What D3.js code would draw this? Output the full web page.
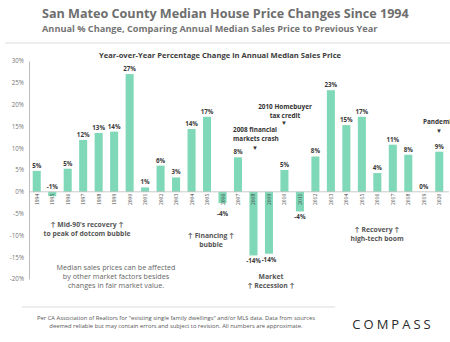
<!DOCTYPE html>
<html>
<head>
<meta charset="utf-8">
<script src="https://cdn.jsdelivr.net/npm/d3@7"></script>
<style>
body{margin:0;background:#fff}
svg{display:block}
</style>
</head>
<body>
<svg id="chart"></svg>
<script>
const width = 450
const height = 342

// data
const years = ['1994','1995','1996','1997','1998','1999','2000','2001','2002','2003','2004','2005','2006','2007','2008','2009','2010','2011','2012','2013','2014','2015','2016','2017','2018','2019','2020']
const changes = [4.8,-1,5.3,11.9,13.5,13.8,27,1,6,3.3,14.4,17.2,-2.6,7.9,-14.6,-14.2,5,-4.5,8.1,23.3,15.3,17.2,4.3,10.8,8.5,0,9.2]
const labels = ['5%','-1%','5%','12%','13%','14%','27%','1%','6%','3%','14%','17%','-4%','8%','-14%','-14%','5%','-4%','8%','23%','15%','17%','4%','11%','8%','0%','9%']
const yTicks = [-20,-15,-10,-5,0,5,10,15,20,25,30]

const data = years.map((y,i)=>({year:y,value:changes[i],label:labels[i]}))

const svg = d3.select('#chart').attr('width',width).attr('height',height)
  .style('font-family','"Open Sans", Lato, sans-serif')

const x = d3.scaleBand().domain(years).range([29,447]).paddingInner(0.48).paddingOuter(0.24)
const y = d3.scaleLinear().domain([-20,30]).range([279,61])

// header
svg.append('text').text('San Mateo County Median House Price Changes Since 1994')
  .attr('x',42).attr('y',18).attr('font-size',12.6).attr('font-weight','bold').attr('fill','#6e6e6e')
svg.append('text').text('Annual % Change, Comparing  Annual Median Sales Price to Previous Year')
  .attr('x',42).attr('y',31.5).attr('font-size',9.2).attr('font-weight','bold').attr('fill','#747474')
svg.append('line').attr('x1',5).attr('x2',450).attr('y1',43).attr('y2',43)
  .attr('stroke','#dcdcdc').attr('stroke-width',1)
svg.append('text').text('Year-over-Year Percentage Change in Annual Median Sales Price')
  .attr('x',220).attr('y',58).attr('text-anchor','middle').attr('font-size',7.6)
  .attr('font-weight','bold').attr('fill','#3c3c3c')

// y axis
const yAxis = d3.axisLeft(y).tickValues(yTicks).tickSize(0).tickPadding(5).tickFormat(d=>d+'%')
const ya = svg.append('g').attr('transform','translate(29,0)').call(yAxis)
ya.select('.domain').attr('stroke','#bdbdbd')
ya.selectAll('text').attr('font-size',6.2).attr('fill','#777').attr('font-family','"Open Sans", sans-serif')

// bars
svg.append('g').selectAll('rect').data(data).enter().append('rect')
  .attr('x',d=>x(d.year))
  .attr('width',x.bandwidth())
  .attr('y',d=>y(Math.max(0,d.value)))
  .attr('height',d=>Math.abs(y(d.value)-y(0)))
  .attr('fill','#7fd9b8')

// zero line
svg.append('line').attr('x1',29).attr('x2',449).attr('y1',y(0)).attr('y2',y(0))
  .attr('stroke','#bdbdbd').attr('stroke-width',0.8)

// year labels
svg.append('g').selectAll('text').data(data).enter().append('text')
  .text(d=>d.year)
  .attr('transform',d=>`translate(${x(d.year)+x.bandwidth()/2+2},${y(0)+2}) rotate(-90)`)
  .attr('text-anchor','end')
  .attr('font-size',5.6).attr('font-family','"Liberation Serif", serif').attr('fill','#444')

// value labels
svg.append('g').selectAll('text').data(data).enter().append('text')
  .text(d=>d.label)
  .attr('x',d=>x(d.year)+x.bandwidth()/2)
  .attr('y',d=>{
    if(d.value>=-1.5) return y(Math.max(0,d.value))-3
    return Math.max(y(d.value),y(0)+16)+8
  })
  .attr('text-anchor','middle').attr('font-size',6.2).attr('font-weight','bold').attr('fill','#3a3a3a')

// annotations
const note = (lines,cx,cy,opt={})=>{
  const t = svg.append('text').attr('text-anchor',opt.anchor||'middle')
    .attr('font-size',opt.size||6.8).attr('font-weight',opt.weight||'bold').attr('fill',opt.color||'#555')
  lines.forEach((l,i)=>t.append('tspan').attr('x',cx).attr('y',cy+i*(opt.lh||9.2)).text(l))
}
note(['\u2191  Mid-90\'s recovery \u2191','to peak of dotcom bubble'],87,227)
note(['\u2191 Financing \u2191','bubble'],211,238)
note(['Market','\u2191  Recession \u2191'],271,279)
note(['\u2191         Recovery        \u2191','high-tech boom'],377,232)
note(['Median sales prices can be affected','by other market factors besides','changes in fair market value.'],116,270,{color:'#666',weight:'normal',size:7.2})
note(['2008 financial','markets crash'],233,132,{anchor:'start',color:'#333',size:6.4})
note(['2010 Homebuyer','tax credit'],285,109,{color:'#333',size:6.4})
note(['Pandemic'],423,124,{anchor:'start',color:'#333',size:6.4})
note(['\u25bc'],255,150,{size:6,color:'#333'})
note(['\u25bc'],284,125,{size:6,color:'#333'})
note(['\u25bc'],439,133,{size:6,color:'#333'})

// footer
svg.append('line').attr('x1',22).attr('x2',335).attr('y1',307).attr('y2',307)
  .attr('stroke','#dcdcdc').attr('stroke-width',1)
note(['Per CA Association  of Realtors for "existing single family dwellings" and/or MLS data. Data from sources','deemed reliable but may contain  errors and subject  to revision.  All numbers are approximate.'],176,320,{size:5.8,weight:'normal',lh:7.8,color:'#555'})
svg.append('text').text('COMPASS').attr('x',393).attr('y',329).attr('text-anchor','middle')
  .attr('font-size',13).attr('letter-spacing',3).attr('font-family','"Open Sans", sans-serif')
  .attr('fill','#2a2a2a')
</script>
</body>
</html>
